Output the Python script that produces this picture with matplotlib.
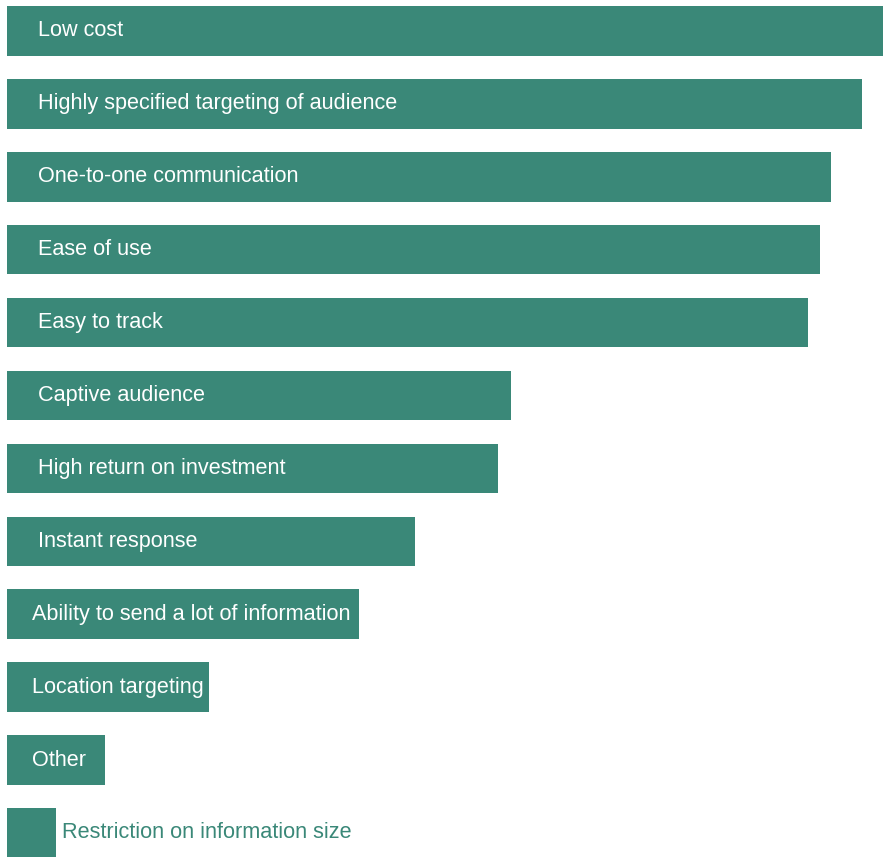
import matplotlib.pyplot as plt

# Reasons for using mobile marketing, share of respondents
labels = [
    "Low cost",
    "Highly specified targeting of audience",
    "One-to-one communication",
    "Ease of use",
    "Easy to track",
    "Captive audience",
    "High return on investment",
    "Instant response",
    "Ability to send a lot of information",
    "Location targeting",
    "Other",
    "Restriction on information size",
]
values = [71.2, 69.5, 67.0, 66.1, 65.1, 41.0, 39.9, 33.2, 28.6, 16.4, 8.0, 4.0]

teal = "#3a8878"
plt.rcParams["font.family"] = ["Liberation Sans", "DejaVu Sans"]

fig = plt.figure(figsize=(8.83, 8.57), dpi=100)
ax = fig.add_axes([7 / 883, 0, 876 / 883, 1])

ypos = list(range(len(labels)))
ax.barh(ypos, values, height=0.68, color=teal)
ax.set_xlim(0, max(values))
ax.set_ylim(11.33, -0.425)
ax.axis("off")

for i, (lab, v) in enumerate(zip(labels, values)):
    if v < 6:
        # bar too short: put the label just past its end
        ax.annotate(lab, xy=(v, i), xytext=(4.5, 0), textcoords="offset points",
                    va="center", ha="left", fontsize=15.6, color=teal)
    else:
        pad = 22.3 if v > 30 else 18
        ax.annotate(lab, xy=(0, i), xytext=(pad, 0), textcoords="offset points",
                    va="center", ha="left", fontsize=15.6, color="white")

fig.savefig("out.png", dpi=100)
